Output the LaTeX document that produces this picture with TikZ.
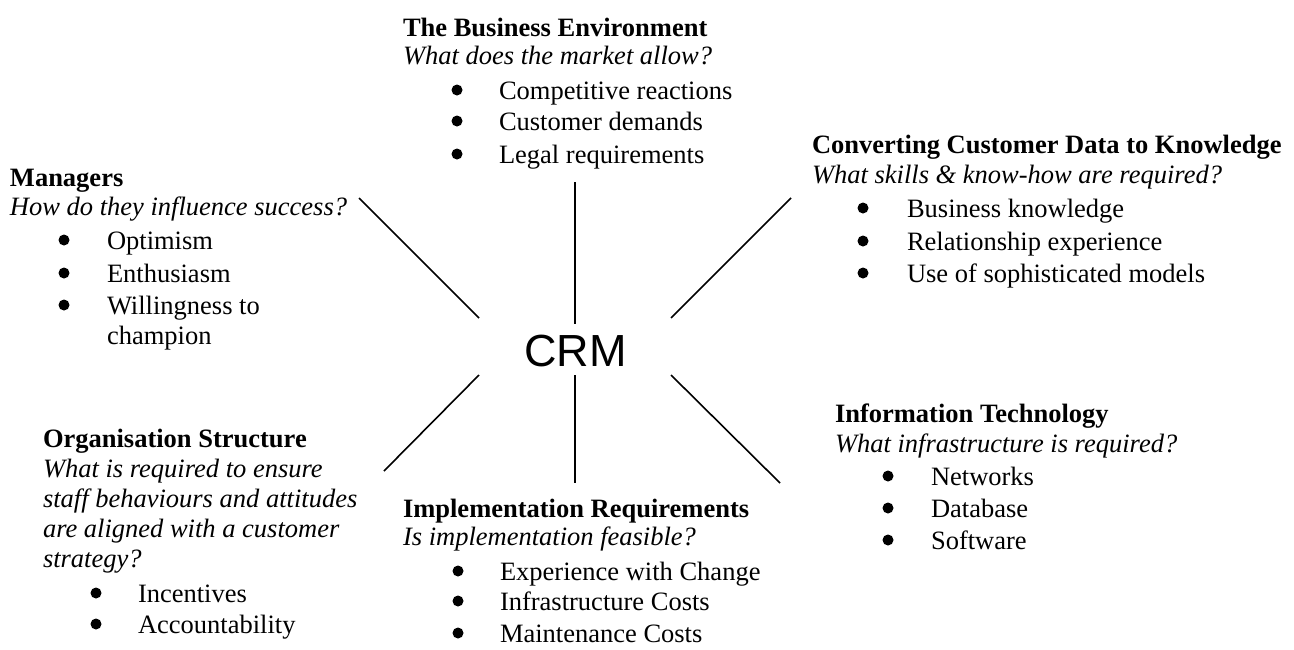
\documentclass[tikz,border=0pt]{standalone}
\usepackage{fontspec}
\setmainfont{Liberation Serif}
\newfontfamily\crmfont{Liberation Sans}
\newcommand\txtsz{\fontsize{13.25}{16}\selectfont}
\begin{document}
\begin{tikzpicture}[x=0.5pt,y=-0.5pt,
  every node/.style={inner sep=0pt, outer sep=0pt},
  ttl/.style={anchor=base west, font=\txtsz\bfseries},
  qst/.style={anchor=base west, font=\txtsz\itshape},
  itm/.style={anchor=base west, font=\txtsz},
  bul/.style={circle, fill=black, minimum size=5.5pt},
  spoke/.style={line width=0.8pt, black}]
\useasboundingbox (0,0) rectangle (1294,649);

% centre
\node[anchor=base, font=\crmfont\fontsize{22.5}{26}\selectfont] (crm) at (575.5,366) {CRM};

% spokes
\coordinate (tl1) at (359,198); \coordinate (tl2) at (479,318);
\coordinate (t1) at (575,182);  \coordinate (t2) at (575,324);
\coordinate (tr1) at (791,198); \coordinate (tr2) at (671,318);
\coordinate (bl1) at (479,375); \coordinate (bl2) at (384,471);
\coordinate (b1) at (575,375);  \coordinate (b2) at (575,483);
\coordinate (br1) at (671,375); \coordinate (br2) at (780,483);
\draw[spoke] (tl1) -- (tl2);
\draw[spoke] (t1) -- (t2);
\draw[spoke] (tr1) -- (tr2);
\draw[spoke] (bl1) -- (bl2);
\draw[spoke] (b1) -- (b2);
\draw[spoke] (br1) -- (br2);

% The Business Environment
\node[ttl] (be) at (403,36) {The Business Environment};
\node[qst] (beq) at (403,64) {What does the market allow?};
\node[bul] (beb1) at (457,90) {}; \node[itm] (bei1) at (499,99) {Competitive reactions};
\node[bul] (beb2) at (457,121) {}; \node[itm] (bei2) at (499,130) {Customer demands};
\node[bul] (beb3) at (457,154) {}; \node[itm] (bei3) at (499,163) {Legal requirements};

% Managers
\node[ttl] (mg) at (10,186) {Managers};
\node[qst] (mgq) at (10,215) {How do they influence success?};
\node[bul] (mgb1) at (64,240) {}; \node[itm] (mgi1) at (107,249) {Optimism};
\node[bul] (mgb2) at (64,273) {}; \node[itm] (mgi2) at (107,282) {Enthusiasm};
\node[bul] (mgb3) at (64,305) {}; \node[itm] (mgi3) at (107,314) {Willingness to};
\node[itm] (mgi4) at (107,344) {champion};

% Converting Customer Data to Knowledge
\node[ttl] (cc) at (812,153) {Converting Customer Data to Knowledge};
\node[qst] (ccq) at (812,183) {What skills \& know-how are required?};
\node[bul] (ccb1) at (863,208) {}; \node[itm] (cci1) at (907,217) {Business knowledge};
\node[bul] (ccb2) at (863,241) {}; \node[itm] (cci2) at (907,250) {Relationship experience};
\node[bul] (ccb3) at (863,273) {}; \node[itm] (cci3) at (907,282) {Use of sophisticated models};

% Organisation Structure
\node[ttl] (os) at (43,447) {Organisation Structure};
\node[qst] (osq1) at (43,477) {What is required to ensure};
\node[qst] (osq2) at (43,507) {staff behaviours and attitudes};
\node[qst] (osq3) at (43,537) {are aligned with a customer};
\node[qst] (osq4) at (43,567) {strategy?};
\node[bul] (osb1) at (96,593) {}; \node[itm] (osi1) at (138,602) {Incentives};
\node[bul] (osb2) at (96,624) {}; \node[itm] (osi2) at (138,633) {Accountability};

% Implementation Requirements
\node[ttl] (ir) at (403,517) {Implementation Requirements};
\node[qst] (irq) at (403,545) {Is implementation feasible?};
\node[bul] (irb1) at (458,571) {}; \node[itm] (iri1) at (500,580) {Experience with Change};
\node[bul] (irb2) at (458,601) {}; \node[itm] (iri2) at (500,610) {Infrastructure Costs};
\node[bul] (irb3) at (458,633) {}; \node[itm] (iri3) at (500,642) {Maintenance Costs};

% Information Technology
\node[ttl] (it) at (835,422) {Information Technology};
\node[qst] (itq) at (835,452) {What infrastructure is required?};
\node[bul] (itb1) at (888,476) {}; \node[itm] (iti1) at (931,485) {Networks};
\node[bul] (itb2) at (888,508) {}; \node[itm] (iti2) at (931,517) {Database};
\node[bul] (itb3) at (888,540) {}; \node[itm] (iti3) at (931,549) {Software};
\end{tikzpicture}
\end{document}
